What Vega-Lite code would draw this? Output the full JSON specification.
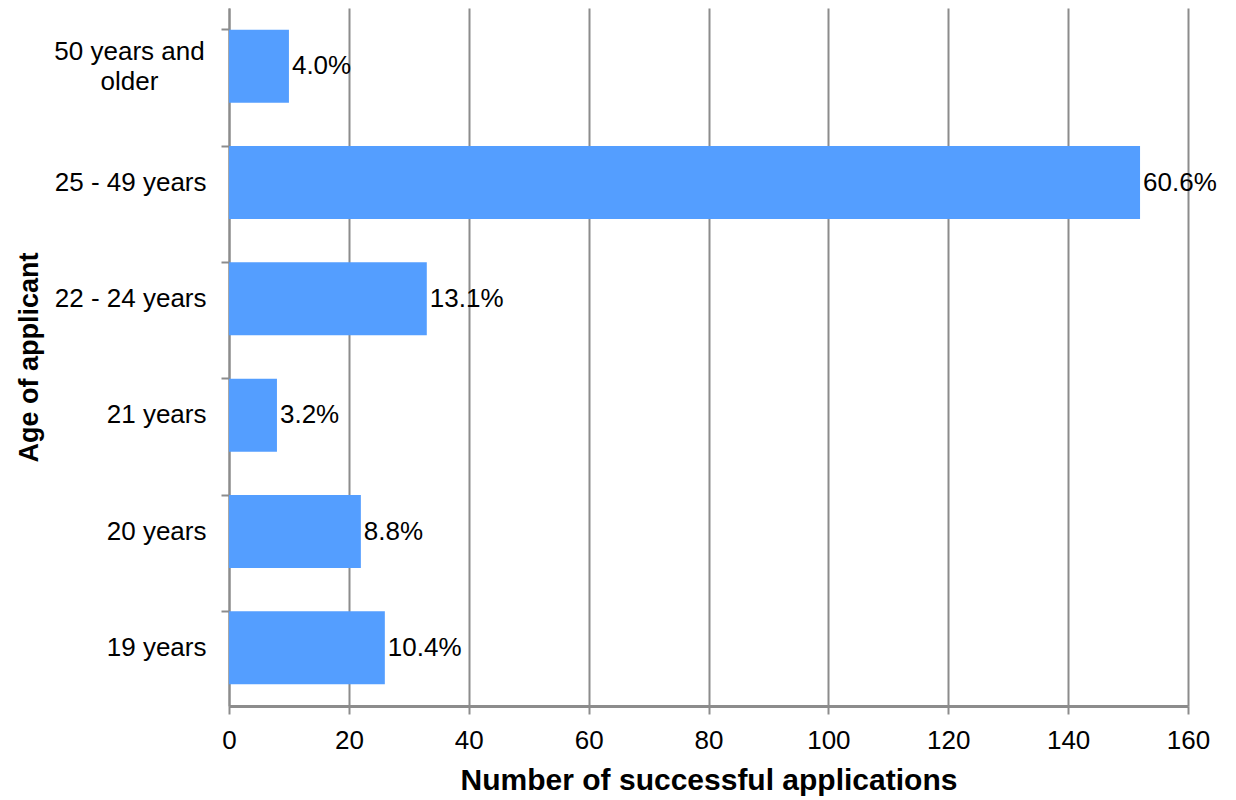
{
  "$schema": "https://vega.github.io/schema/vega-lite/v6.json",
  "width": 959,
  "height": 698,
  "autosize": "none",
  "padding": {"left": 229, "top": 8, "right": 48, "bottom": 94},
  "background": "white",
  "config": {
    "font": "Liberation Sans",
    "view": {"stroke": null}
  },
  "data": {
    "values": [
      {"age": "50 years and older", "count": 10, "pct": 0.040},
      {"age": "25 - 49 years", "count": 152, "pct": 0.606},
      {"age": "22 - 24 years", "count": 33, "pct": 0.131},
      {"age": "21 years", "count": 8, "pct": 0.032},
      {"age": "20 years", "count": 22, "pct": 0.088},
      {"age": "19 years", "count": 26, "pct": 0.104}
    ]
  },
  "encoding": {
    "y": {
      "field": "age",
      "type": "nominal",
      "sort": ["50 years and older", "25 - 49 years", "22 - 24 years", "21 years", "20 years", "19 years"],
      "scale": {"paddingInner": 0.373, "paddingOuter": 0.1865},
      "axis": {
        "title": "Age of applicant",
        "titleFontSize": 27,
        "titleFontWeight": "bold",
        "titleColor": "black",
        "titlePadding": 10,
        "bandPosition": 0,
        "domainColor": "#8c8c8c",
        "domainWidth": 2,
        "tickColor": "#8c8c8c",
        "tickWidth": 2,
        "tickSize": 8,
        "labelFontSize": 26,
        "labelColor": "black",
        "labelLimit": 300,
        "labelLineHeight": 30,
        "labelExpr": "datum.value == '50 years and older' ? ['50 years and', 'older'] : datum.value",
        "labelAlign": {"condition": {"test": "datum.value == '50 years and older'", "value": "center"}, "value": "right"},
        "labelPadding": {"condition": {"test": "datum.value == '50 years and older'", "value": 92}, "value": 15},
        "labelOffset": {"condition": {"test": "datum.value == '50 years and older'", "value": -14}, "value": 0},
        "grid": false
      }
    }
  },
  "layer": [
    {
      "mark": {"type": "bar", "color": "#549eff"},
      "encoding": {
        "x": {
          "field": "count",
          "type": "quantitative",
          "scale": {"domain": [0, 160], "nice": false},
          "axis": {
            "title": "Number of successful applications",
            "titleFontSize": 30,
            "titleFontWeight": "bold",
            "titleColor": "black",
            "titlePadding": 12,
            "values": [0, 20, 40, 60, 80, 100, 120, 140, 160],
            "grid": true,
            "gridColor": "#8c8c8c",
            "gridWidth": 2,
            "domainColor": "#8c8c8c",
            "domainWidth": 3,
            "tickColor": "#8c8c8c",
            "tickWidth": 2,
            "tickSize": 8,
            "labelFontSize": 26,
            "labelColor": "black",
            "labelPadding": 13,
            "labelFlush": false
          }
        }
      }
    },
    {
      "mark": {"type": "text", "align": "left", "baseline": "middle", "dx": 3, "fontSize": 26, "color": "black"},
      "encoding": {
        "x": {"field": "count", "type": "quantitative"},
        "text": {"field": "pct", "type": "quantitative", "format": ".1%"}
      }
    }
  ]
}
